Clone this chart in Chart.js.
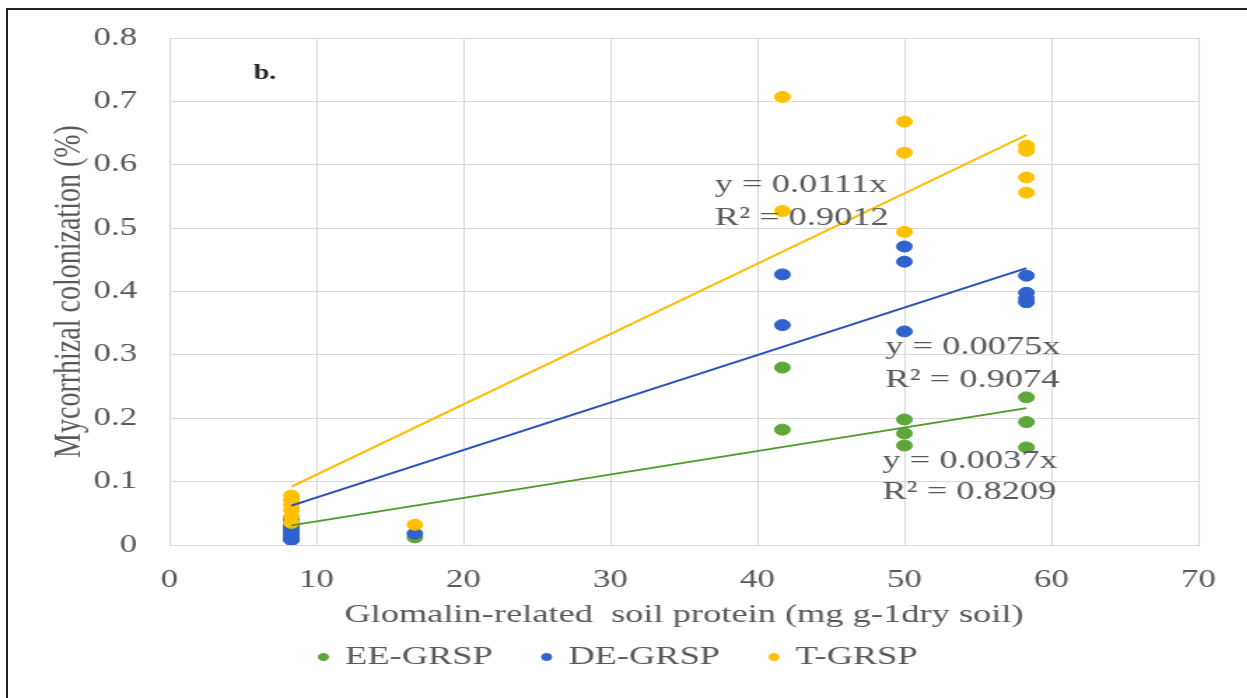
<!DOCTYPE html>
<html>
<head>
<meta charset="utf-8">
<script src="https://cdn.jsdelivr.net/npm/chart.js@4.4.0/dist/chart.umd.min.js"></script>
<style>
html,body{margin:0;padding:0;background:#fff;overflow:hidden;}
#wrap{position:absolute;left:0;top:0;width:891px;height:698px;transform:scaleX(1.4);transform-origin:0 0;}
#frame{position:absolute;left:6px;top:8px;width:1241px;height:690px;border-left:2px solid #222;border-top:2px solid #222;pointer-events:none;}
</style>
</head>
<body>
<div id="wrap"><canvas id="chart" width="891" height="698"></canvas></div>
<div id="frame"></div>
<script>
// values
var eeX = [8.3,8.3,8.3,8.3,8.3, 16.7, 41.7,41.7, 50,50,50, 58.3,58.3,58.3];
var eeY = [0.010,0.015,0.020,0.025,0.030, 0.012, 0.280,0.182, 0.198,0.176,0.157, 0.233,0.194,0.154];
var deX = [8.3,8.3,8.3,8.3,8.3,8.3,8.3, 16.7, 41.7,41.7, 50,50,50, 58.3,58.3,58.3,58.3];
var deY = [0.008,0.012,0.018,0.024,0.030,0.036,0.042, 0.018, 0.427,0.347, 0.471,0.447,0.337, 0.425,0.398,0.389,0.383];
var tX = [8.3,8.3,8.3,8.3,8.3,8.3, 16.7, 41.7,41.7, 50,50,50, 58.3,58.3,58.3,58.3];
var tY = [0.035,0.045,0.055,0.063,0.071,0.078, 0.032, 0.707,0.527, 0.668,0.619,0.494, 0.630,0.622,0.580,0.556];

// linear trendlines (start / end)
var trendX = [8.3, 58.3];
var eeTrend = [0.031, 0.216];
var deTrend = [0.062, 0.437];
var tTrend = [0.092, 0.647];

var seriesNames = ['EE-GRSP', 'DE-GRSP', 'T-GRSP'];
var equations = ['y = 0.0037x', 'y = 0.0075x', 'y = 0.0111x'];
var rSquared = ['R\u00b2 = 0.8209', 'R\u00b2 = 0.9074', 'R\u00b2 = 0.9012'];

var xTicks = [0, 70, 10];
var yTicks = [0, 0.8, 0.1];

function pts(xs, ys){
	var out = [];
	for(var i=0;i<xs.length;i++){
		out.push({x:xs[i], y:ys[i]});
	}
	return out;
}

var textColor = '#595959';
var gridColor = '#d9d9d9';
Chart.defaults.font.family = '"Liberation Serif", "Times New Roman", serif';

// where the equation labels sit, in axis units
var notePos = [
	{x:48.5, y:0.132}, {x:48.5, y:0.083},
	{x:48.7, y:0.312}, {x:48.7, y:0.260},
	{x:37.1, y:0.567}, {x:37.1, y:0.515}
];

var notesPlugin = {
	id:'notes',
	afterDatasetsDraw:function(chart){
		var c = chart.ctx, sx = chart.scales.x, sy = chart.scales.y;
		c.save();
		c.font = '26px "Liberation Serif", serif';
		c.fillStyle = textColor;
		c.textBaseline = 'middle';
		c.textAlign = 'left';
		for(var i=0;i<3;i++){
			var a = notePos[i*2], b = notePos[i*2+1];
			c.fillText(equations[i], sx.getPixelForValue(a.x), sy.getPixelForValue(a.y));
			c.fillText(rSquared[i], sx.getPixelForValue(b.x), sy.getPixelForValue(b.y));
		}
		c.font = 'bold 20px "Liberation Serif", serif';
		c.fillStyle = '#222';
		c.textAlign = 'center';
		c.fillText('b.', sx.getPixelForValue(6.5), sy.getPixelForValue(0.743));
		c.restore();
	}
};

var ctx = document.getElementById('chart').getContext('2d');
var chart = new Chart(ctx, {
	type:'scatter',
	data:{
		datasets:[
			{label:seriesNames[0], data:pts(eeX,eeY), backgroundColor:'#5FA63A', borderColor:'#5FA63A', pointRadius:5.5, pointHoverRadius:5.5, order:3},
			{label:seriesNames[1], data:pts(deX,deY), backgroundColor:'#2F62CC', borderColor:'#2F62CC', pointRadius:5.5, pointHoverRadius:5.5, order:2},
			{label:seriesNames[2], data:pts(tX,tY), backgroundColor:'#FFC000', borderColor:'#FFC000', pointRadius:5.5, pointHoverRadius:5.5, order:1},
			{type:'line', label:'trendEE', data:pts(trendX,eeTrend), borderColor:'#4E9A2C', borderWidth:2, pointRadius:0, fill:false, order:0},
			{type:'line', label:'trendDE', data:pts(trendX,deTrend), borderColor:'#2A4FB5', borderWidth:2, pointRadius:0, fill:false, order:0},
			{type:'line', label:'trendT', data:pts(trendX,tTrend), borderColor:'#FFBA00', borderWidth:2, pointRadius:0, fill:false, order:0}
		]
	},
	options:{
		responsive:false,
		animation:false,
		layout:{padding:{top:37, right:35, bottom:18, left:28}},
		plugins:{
			tooltip:{enabled:false},
			legend:{
				position:'bottom',
				labels:{
					usePointStyle:true,
					boxWidth:5,
					boxHeight:5,
					padding:36,
					color:textColor,
					font:{size:26},
					filter:function(item){ return item.datasetIndex < 3; },
					sort:function(a,b){ return a.datasetIndex - b.datasetIndex; }
				}
			}
		},
		scales:{
			x:{
				type:'linear',
				min:xTicks[0], max:xTicks[1],
				ticks:{stepSize:xTicks[2], color:textColor, font:{size:25}, padding:20},
				grid:{color:gridColor, drawTicks:false},
				border:{color:gridColor},
				title:{display:true, text:'Glomalin-related  soil protein (mg g-1dry soil)', color:textColor, font:{size:26}, padding:{top:0, bottom:-23}},
				afterFit:function(s){ s.height = 63; }
			},
			y:{
				min:yTicks[0], max:yTicks[1],
				ticks:{stepSize:yTicks[2], color:textColor, font:{size:25}, padding:23,
					callback:function(v){ return v === 0 ? '0' : v.toFixed(1); }},
				grid:{color:gridColor, drawTicks:false},
				border:{color:gridColor},
				title:{display:true, text:'Mycorrhizal colonization (%)', color:textColor, font:{size:28}, padding:{top:5, bottom:0}},
				afterFit:function(s){ s.width = 93; }
			}
		}
	},
	plugins:[notesPlugin]
});
</script>
</body>
</html>
